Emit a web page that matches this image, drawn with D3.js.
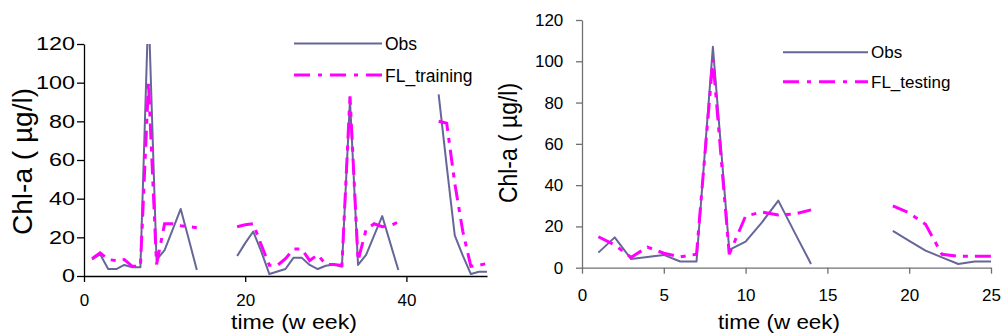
<!DOCTYPE html>
<html><head><meta charset="utf-8">
<script src="https://cdn.jsdelivr.net/npm/d3@7/dist/d3.min.js"></script>
<style>
body{margin:0;background:#fff}
svg{display:block}
text{font-family:Arial,"Liberation Sans",sans-serif;fill:#000}
</style>
</head><body>
<svg id="c" width="1005" height="336"></svg>
<script>
// ---------------- data ----------------
const trainingWeeks = [1,2,3,4,5,6,7,8,9,10,11,12,13,14,15,16,17,18,19,20,21,22,23,24,25,26,27,28,29,30,31,32,33,34,35,36,37,38,39,40,41,42,43,44,45,46,47,48,49,50];
const trainingObs = [8.6,11.2,3.6,3.6,5.7,4.5,4.5,140,8.3,13.4,24,34.7,19,3.1,null,null,null,null,10.3,17,23,12.6,1,2.3,3.6,9.5,9.5,5.7,3.6,5.3,6,4.8,91,5.7,10.9,21,31,17,3.1,null,null,null,null,94,57,21,10.5,1,2.2,2.2];
const trainingFL  = [9,12,8.5,8,8.5,5,5,100,6,27,27,26,25.5,25,null,null,null,null,25.5,26.5,27,16,5.5,5.5,9,14,14,8,11,6,6,5.5,93,8,24,27,25.5,26,28,null,null,null,null,80,79,48,23,5,5.5,6.5];

const testingWeeks = [1,2,3,4,5,6,7,8,9,10,11,12,13,14,15,16,17,18,19,20,21,22,23,24,25];
const testingObs = [7.3,14.7,4.2,5.2,6.2,3,3,107,8.6,12.6,22,32.5,17,1.8,null,null,null,null,17.8,13,8.3,5,1.8,3,3];
const testingFL  = [15,11,5,10,7,5.3,6.5,101,6.5,25,27,25.5,26,28,null,null,null,null,30,26.5,21,6.5,5.5,5.5,5.5];

const yTickValues = [0,20,40,60,80,100,120];
const trainingXTicks = [0,20,40];
const testingXTicks = [0,5,10,15,20,25];
const yTitle = "Chl-a ( µg/l)";
const xTitle = "time (w eek)";
const obsName = "Obs";
const trainingName = "FL_training";
const testingName = "FL_testing";

// ---------------- drawing ----------------
const svg = d3.select("#c");
const OBS_COLOR = "#666699";
const FL_COLOR = "#ff00ff";

function drawPanel(cfg) {
  const x = d3.scaleLinear().domain(cfg.xDomain).range(cfg.xRange);
  const y = d3.scaleLinear().domain([0, 120]).range(cfg.yRange);
  const g = svg.append("g");

  const clipId = "clip" + cfg.id;
  svg.append("clipPath").attr("id", clipId).append("rect")
    .attr("x", cfg.xRange[0]).attr("y", cfg.yRange[1])
    .attr("width", cfg.xRange[1] - cfg.xRange[0])
    .attr("height", cfg.yRange[0] - cfg.yRange[1]);

  // Y axis
  const ya = g.append("g").attr("transform", `translate(${cfg.xRange[0]},0)`)
    .call(d3.axisLeft(y).tickValues(yTickValues).tickSize(cfg.yTickSize)
      .tickPadding(cfg.yPad).tickSizeOuter(0));
  ya.selectAll("path,line").attr("stroke", cfg.axisColor).attr("stroke-width", 1.3);
  ya.selectAll("text").attr("font-size", cfg.yFont).attr("fill", "#000")
    .attr("font-family", "Arial, 'Liberation Sans', sans-serif")
    .attr("x", -(cfg.yTickSize + cfg.yPad) / cfg.ySx)
    .attr("transform", `scale(${cfg.ySx},1)`);

  // X axis
  const xa = g.append("g").attr("transform", `translate(0,${cfg.yRange[0]})`)
    .call(d3.axisBottom(x).tickValues(cfg.xTicks).tickSize(cfg.xTickSize)
      .tickPadding(cfg.xPad).tickSizeOuter(0));
  xa.selectAll("path,line").attr("stroke", cfg.axisColor).attr("stroke-width", 1.3);
  xa.selectAll("text").attr("font-size", cfg.xFont).attr("fill", "#000")
    .attr("font-family", "Arial, 'Liberation Sans', sans-serif");

  const series = (vals) => cfg.weeks.map((w, i) => ({ w, v: vals[i] }));
  const line = d3.line().defined(d => d.v != null).x(d => x(d.w)).y(d => y(d.v));

  const plot = g.append("g").attr("clip-path", `url(#${clipId})`);
  plot.append("path").datum(series(cfg.obs)).attr("d", line)
    .attr("fill", "none").attr("stroke", OBS_COLOR).attr("stroke-width", 2)
    .attr("stroke-linejoin", "round");
  plot.append("path").datum(series(cfg.fl)).attr("d", line)
    .attr("fill", "none").attr("stroke", FL_COLOR).attr("stroke-width", 3)
    .attr("stroke-dasharray", "16,7,5,7");

  // Legend
  const L = cfg.legend;
  g.append("line").attr("x1", L.x1).attr("x2", L.x2).attr("y1", L.y1).attr("y2", L.y1)
    .attr("stroke", OBS_COLOR).attr("stroke-width", 2);
  g.append("text").attr("x", L.tx).attr("y", L.t1).attr("font-size", L.font).text(obsName);
  g.append("line").attr("x1", L.x1).attr("x2", L.x2).attr("y1", L.y2).attr("y2", L.y2)
    .attr("stroke", FL_COLOR).attr("stroke-width", 3).attr("stroke-dasharray", "16,8,4,8");
  g.append("text").attr("x", L.tx).attr("y", L.t2).attr("font-size", L.font).text(cfg.flName);

  // Titles
  g.append("text")
    .attr("transform", `translate(${cfg.yt.x},${cfg.yt.cy}) rotate(-90)`)
    .attr("text-anchor", "middle").attr("font-size", cfg.yt.font)
    .attr("textLength", cfg.yt.len).attr("lengthAdjust", "spacingAndGlyphs")
    .text(yTitle);
  g.append("text")
    .attr("x", cfg.xt.cx).attr("y", cfg.xt.y)
    .attr("text-anchor", "middle").attr("font-size", cfg.xt.font)
    .attr("textLength", cfg.xt.len).attr("lengthAdjust", "spacingAndGlyphs")
    .text(xTitle);
}

drawPanel({
  id: "L", weeks: trainingWeeks, obs: trainingObs, fl: trainingFL, flName: trainingName,
  xDomain: [0, 50], xRange: [84, 487], yRange: [276, 44], xTicks: trainingXTicks,
  axisColor: "#000", yTickSize: 7, yPad: 2, yFont: 18, ySx: 1.3,
  xTickSize: 6, xPad: 12, xFont: 17,
  legend: { x1: 294, x2: 382, y1: 43.5, y2: 75, tx: 385, t1: 49.5, t2: 81.5, font: 17.5 },
  yt: { x: 31.5, cy: 161.5, font: 28, len: 147 },
  xt: { cx: 294, y: 328.5, font: 21, len: 126 }
});

drawPanel({
  id: "R", weeks: testingWeeks, obs: testingObs, fl: testingFL, flName: testingName,
  xDomain: [0, 25], xRange: [582, 991], yRange: [267.7, 20], xTicks: testingXTicks,
  axisColor: "#707070", yTickSize: 6, yPad: 12.7, yFont: 17, ySx: 1,
  xTickSize: 6, xPad: 15, xFont: 17,
  legend: { x1: 783, x2: 868, y1: 52.3, y2: 81.7, tx: 871, t1: 58, t2: 88, font: 17 },
  yt: { x: 517, cy: 143, font: 25, len: 120 },
  xt: { cx: 779, y: 328.5, font: 21, len: 122 }
});
</script>
</body></html>
